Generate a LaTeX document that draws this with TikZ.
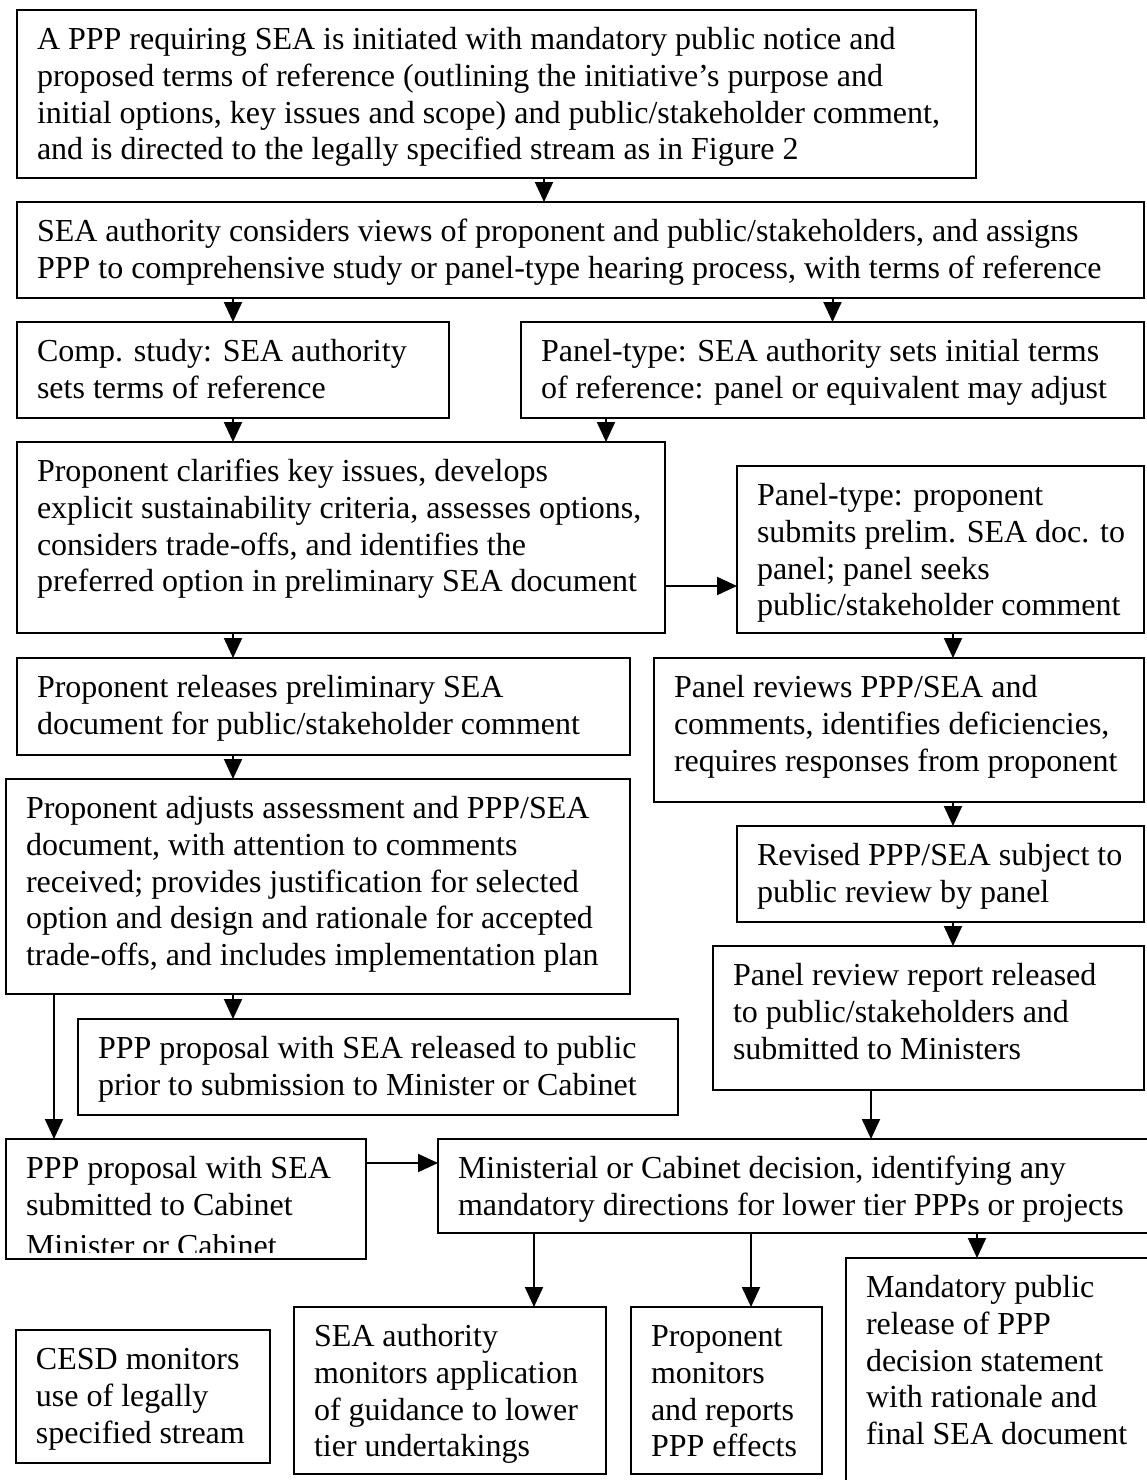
\documentclass[tikz,border=0pt]{standalone}
\usepackage{fontspec}
\setmainfont{Liberation Serif}
\usepackage{trimclip}
\usetikzlibrary{arrows.meta}

\begin{document}
\begin{tikzpicture}[x=1pt, y=-1pt, >={Triangle[width=18pt,length=20pt]},
    stage/.style 2 args={draw, line width=2.7pt, inner sep=0pt, outer sep=0pt, anchor=north west,
      font=\fontsize{32}{36.8}\selectfont,
      execute at begin node={\begin{minipage}[c][#2][t]{#1}\raggedright\leftskip=20pt\rule{0pt}{39.5pt}},
      execute at end node={\end{minipage}}},
    link/.style={->, line width=2pt}]
  \clip (0,0) rectangle (1147,1480);
  \node[stage={959pt}{168pt}] (notice) at (17,10) {A PPP requiring SEA is initiated with mandatory public notice and\\ proposed terms of reference (outlining the initiative's purpose and\\ initial options, key issues and scope) and public/stakeholder comment,\\ and is directed to the legally specified stream as in Figure 2};
  \node[stage={1127pt}{96pt}] (assign) at (17,202) {SEA authority considers views of proponent and public/stakeholders, and assigns\\ PPP to comprehensive study or panel-type hearing process, with terms of reference};
  \node[stage={432pt}{96pt}] (comp) at (17,322) {Comp. study: SEA authority\\ sets terms of reference};
  \node[stage={623pt}{96pt}] (panelset) at (521,322) {Panel-type: SEA authority sets initial terms\\ of reference: panel or equivalent may adjust};
  \node[stage={648pt}{191pt}] (clarify) at (17,442) {Proponent clarifies key issues, develops\\ explicit sustainability criteria, assesses options,\\ considers trade-offs, and identifies the\\ preferred option in preliminary SEA document};
  \node[stage={407pt}{167pt}] (prelim) at (737,466) {Panel-type: proponent\\ submits prelim. SEA doc. to\\ panel; panel seeks\\ public/stakeholder comment};
  \node[stage={613pt}{97pt}] (prelrel) at (17,658) {Proponent releases preliminary SEA\\ document for public/stakeholder comment};
  \node[stage={490pt}{144pt}] (review) at (654,658) {Panel reviews PPP/SEA and\\ comments, identifies deficiencies,\\ requires responses from proponent};
  \node[stage={624pt}{215pt}] (adjust) at (6,779) {Proponent adjusts assessment and PPP/SEA\\ document, with attention to comments\\ received; provides justification for selected\\ option and design and rationale for accepted\\ trade-offs, and includes implementation plan};
  \node[stage={407pt}{96pt}] (revised) at (737,826) {Revised PPP/SEA subject to\\ public review by panel};
  \node[stage={431pt}{144pt}] (report) at (713,946) {Panel review report released\\ to public/stakeholders and\\ submitted to Ministers};
  \node[stage={600pt}{96pt}] (public) at (78,1019) {PPP proposal with SEA released to public\\ prior to submission to Minister or Cabinet};
  \node[stage={360pt}{120pt}] (submit) at (6,1139) {PPP proposal with SEA\\ submitted to Cabinet\\ \clipbox{0pt 4.6pt 0pt 0pt}{Minister or Cabinet}};
  \node[stage={730pt}{94pt}] (decision) at (438,1139) {Ministerial or Cabinet decision, identifying any\\ mandatory directions for lower tier PPPs or projects};
  \node[stage={312pt}{167pt}] (authmon) at (294,1307) {SEA authority\\ monitors application\\ of guidance to lower\\ tier undertakings};
  \node[stage={191pt}{167pt}] (propmon) at (631,1307) {Proponent\\ monitors\\ and reports\\ PPP effects};
  \node[stage={330pt}{240pt}] (mandrel) at (846,1258) {Mandatory public\\ release of PPP\\ decision statement\\ with rationale and\\ final SEA document};
  \node[stage={254pt}{133pt}] (cesd) at (16,1330) {CESD monitors\\ use of legally\\ specified stream};
  \draw[link] (544,0 |- notice.south) -- (544,0 |- assign.north);
  \draw[link] (comp.north |- assign.south) -- (comp.north);
  \draw[link] (panelset.north |- assign.south) -- (panelset.north);
  \draw[link] (comp.south) -- (comp.south |- clarify.north);
  \draw[link] (606,0 |- panelset.south) -- (606,0 |- clarify.north);
  \draw[link] (clarify.east |- 0,586) -- (prelim.west |- 0,586);
  \draw[link] (233,0 |- clarify.south) -- (233,0 |- prelrel.north);
  \draw[link] (953,0 |- prelim.south) -- (953,0 |- review.north);
  \draw[link] (233,0 |- prelrel.south) -- (233,0 |- adjust.north);
  \draw[link] (953,0 |- review.south) -- (953,0 |- revised.north);
  \draw[link] (953,0 |- revised.south) -- (953,0 |- report.north);
  \draw[link] (233,0 |- adjust.south) -- (233,0 |- public.north);
  \draw[link] (54,0 |- adjust.south) -- (54,0 |- submit.north);
  \draw[link] (submit.east |- 0,1163) -- (decision.west |- 0,1163);
  \draw[link] (871,0 |- report.south) -- (871,0 |- decision.north);
  \draw[link] (534,0 |- decision.south) -- (534,0 |- authmon.north);
  \draw[link] (751,0 |- decision.south) -- (751,0 |- propmon.north);
  \draw[link] (977,0 |- decision.south) -- (977,0 |- mandrel.north);
\end{tikzpicture}
\end{document}
